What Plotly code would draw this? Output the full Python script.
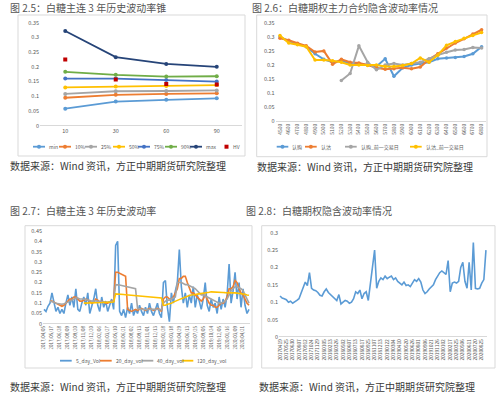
import plotly.graph_objects as go

W, H = 500, 394
FONT = "Noto Sans CJK SC"


def fx(x):
    return x / W


def fy(y):
    return 1 - y / H


# ---------------- Panel 1 : volatility cone ----------------
cone_windows = ["10", "30", "60", "90"]
cone_min = [0.058, 0.082, 0.088, 0.093]
cone_p10 = [0.095, 0.105, 0.108, 0.110]
cone_p25 = [0.108, 0.117, 0.118, 0.120]
cone_p50 = [0.130, 0.133, 0.135, 0.138]
cone_p75 = [0.160, 0.160, 0.155, 0.150]
cone_p90 = [0.183, 0.173, 0.167, 0.168]
cone_max = [0.322, 0.233, 0.210, 0.200]
cone_hv = [0.225, 0.157, 0.142, 0.140]

# y-axis tick labels (as printed on the charts)
yt_035 = ["0", "0.05", "0.1", "0.15", "0.2", "0.25", "0.3", "0.35"]
yt_045 = ["0", "0.05", "0.1", "0.15", "0.2", "0.25", "0.3", "0.35", "0.4", "0.45"]
yt_030 = ["0", "0.05", "0.1", "0.15", "0.2", "0.25", "0.3"]

# ---------------- Panel 2 : implied vol by strike ----------------
strikes = [str(s) for s in range(4500, 6900, 100)]
iv_call = [0.300, 0.285, 0.275, 0.265, 0.240, 0.220, 0.210, 0.215, 0.205, 0.205, 0.200, 0.195,
           0.222, 0.160, 0.190, 0.200, 0.205, 0.210, 0.222, 0.225, 0.227, 0.230, 0.240, 0.265]
iv_put = [0.295, 0.288, 0.277, 0.268, 0.246, 0.250, 0.203, 0.220, 0.210, 0.207, 0.200, 0.190,
          0.185, 0.187, 0.190, 0.187, 0.193, 0.220, 0.240, 0.260, 0.278, 0.293, 0.310, 0.325]
iv_call_prev = [None, None, None, None, None, None, None, 0.145, 0.170, 0.268, 0.210, 0.183,
                0.200, 0.205, 0.200, 0.205, 0.210, 0.222, 0.235, 0.245, 0.253, 0.255, 0.262, 0.260]
iv_put_prev = [0.305, 0.278, 0.272, 0.265, 0.218, 0.218, 0.215, 0.210, 0.200, 0.200, 0.198, 0.200,
               0.195, 0.195, 0.198, 0.205, 0.225, 0.210, 0.235, 0.270, 0.283, 0.295, 0.305, 0.315]

# ---------------- Panel 3 : 3-year historical vol ----------------
hv_dates = ["2017/04/05", "2017/05/17", "2017/06/28", "2017/08/09", "2017/09/20", "2017/11/08",
            "2017/12/20", "2018/02/06", "2018/03/27", "2018/05/10", "2018/06/21", "2018/08/02",
            "2018/09/13", "2018/11/01", "2018/12/13", "2019/01/28", "2019/03/18", "2019/04/29",
            "2019/06/13", "2019/07/25", "2019/09/05", "2019/10/24", "2019/12/05", "2020/01/16",
            "2020/03/09", "2020/04/21"]
vol5 = [0.07, 0.06, 0.085, 0.10, 0.15, 0.11, 0.06, 0.08, 0.05, 0.07,
        0.05, 0.10, 0.14, 0.09, 0.13, 0.08, 0.17, 0.07, 0.06, 0.10,
        0.13, 0.09, 0.15, 0.05, 0.08, 0.12, 0.17, 0.09, 0.06, 0.13,
        0.08, 0.11, 0.06, 0.09, 0.12, 0.07, 0.38, 0.40, 0.06, 0.04,
        0.07, 0.03, 0.08, 0.05, 0.10, 0.04, 0.07, 0.05, 0.09, 0.06,
        0.04, 0.08, 0.05, 0.10, 0.06, 0.04, 0.07, 0.10, 0.05, 0.03,
        0.20, 0.21, 0.08, 0.01, 0.15, 0.10, 0.16, 0.20, 0.36, 0.18,
        0.10, 0.15, 0.08, 0.14, 0.10, 0.18, 0.08, 0.14, 0.11, 0.07,
        0.12, 0.20, 0.09, 0.06, 0.12, 0.08, 0.10, 0.05, 0.13, 0.07,
        0.12, 0.08, 0.14, 0.29, 0.10, 0.16, 0.25, 0.12, 0.20, 0.08,
        0.17, 0.09, 0.05, 0.07]
vol20 = [None, None, None, 0.11, 0.11, 0.105, 0.10, 0.095, 0.09, 0.085,
         0.09, 0.10, 0.11, 0.12, 0.12, 0.13, 0.13, 0.12, 0.11, 0.11,
         0.115, 0.12, 0.115, 0.11, 0.10, 0.105, 0.12, 0.115, 0.105, 0.11,
         0.105, 0.10, 0.10, 0.105, 0.11, 0.11, 0.25, 0.25, 0.245, 0.24,
         0.235, 0.23, 0.07, 0.065, 0.06, 0.065, 0.07, 0.065, 0.07, 0.075,
         0.07, 0.065, 0.07, 0.075, 0.07, 0.065, 0.07, 0.075, 0.07, 0.06,
         0.12, 0.13, 0.13, 0.12, 0.12, 0.13, 0.15, 0.17, 0.22, 0.22,
         0.23, 0.23, 0.20, 0.17, 0.15, 0.15, 0.14, 0.13, 0.12, 0.11,
         0.12, 0.14, 0.12, 0.10, 0.09, 0.09, 0.08, 0.08, 0.09, 0.10,
         0.10, 0.11, 0.13, 0.17, 0.17, 0.18, 0.21, 0.20, 0.17, 0.15,
         0.14, 0.12, 0.10, 0.09]
vol40 = [None, None, None, 0.11, 0.108, 0.105, 0.10, 0.098, 0.095, 0.095,
         0.097, 0.10, 0.105, 0.11, 0.115, 0.12, 0.125, 0.125, 0.12, 0.12,
         0.12, 0.118, 0.115, 0.112, 0.11, 0.11, 0.112, 0.11, 0.108, 0.106,
         0.105, 0.104, 0.105, 0.107, 0.11, 0.11, 0.19, 0.19, 0.188, 0.186,
         0.184, 0.182, 0.18, 0.178, 0.176, 0.173, 0.17, 0.075, 0.072, 0.07,
         0.07, 0.068, 0.068, 0.07, 0.072, 0.07, 0.07, 0.072, 0.07, 0.068,
         0.10, 0.11, 0.115, 0.115, 0.12, 0.125, 0.13, 0.20, 0.20, 0.20,
         0.195, 0.19, 0.19, 0.185, 0.18, 0.175, 0.17, 0.16, 0.15, 0.14,
         0.14, 0.135, 0.13, 0.125, 0.12, 0.115, 0.11, 0.105, 0.10, 0.10,
         0.105, 0.11, 0.12, 0.14, 0.16, 0.17, 0.18, 0.18, 0.175, 0.17,
         0.16, 0.14, 0.12, 0.10]
vol120 = [None] * 20 + [
    0.10, 0.10, 0.10, 0.10, 0.10, 0.101, 0.102, 0.102, 0.103, 0.103,
    0.104, 0.104, 0.105, 0.105, 0.106, 0.106, 0.145, 0.145, 0.144, 0.143,
    0.142, 0.141, 0.14, 0.14, 0.139, 0.138, 0.137, 0.136, 0.135, 0.134,
    0.133, 0.132, 0.131, 0.13, 0.13, 0.129, 0.128, 0.127, 0.126, 0.125,
    0.09, 0.09, 0.095, 0.097, 0.10, 0.105, 0.11, 0.115, 0.12, 0.122,
    0.125, 0.13, 0.135, 0.137, 0.14, 0.14, 0.142, 0.144, 0.145, 0.147,
    0.148, 0.15, 0.152, 0.153, 0.155, 0.155, 0.155, 0.155, 0.154, 0.153,
    0.152, 0.151, 0.15, 0.15, 0.15, 0.15, 0.15, 0.149, 0.148, 0.147,
    0.145, 0.143, 0.14, 0.138]

# ---------------- Panel 4 : implied vol history ----------------
iv_dates = ["20170419", "20170525", "20170630", "20170807", "20170912", "20171024", "20171129",
            "20180105", "20180213", "20180326", "20180502", "20180607", "20180713", "20180817",
            "20180925", "20181107", "20181213", "20190122", "20190304", "20190410", "20190520",
            "20190626", "20190801", "20190906", "20191021", "20191126", "20200102", "20200217",
            "20200325", "20200506", "20200611", "20200720", "20200825"]
iv_hist = [0.118, 0.112, 0.11, 0.107, 0.10, 0.103, 0.097, 0.10, 0.105, 0.11,
           0.125, 0.145, 0.158, 0.148, 0.185, 0.14, 0.135, 0.133, 0.128, 0.12,
           0.118, 0.13, 0.138, 0.128, 0.122, 0.115, 0.11, 0.105, 0.122, 0.095,
           0.10, 0.105, 0.103, 0.097, 0.10, 0.11, 0.13, 0.125, 0.135, 0.11,
           0.125, 0.13, 0.105, 0.15, 0.20, 0.25, 0.14, 0.16, 0.17, 0.165,
           0.175, 0.168, 0.172, 0.175, 0.165, 0.17, 0.16, 0.155, 0.15, 0.158,
           0.148, 0.15, 0.145, 0.155, 0.165, 0.16, 0.168, 0.158, 0.135, 0.125,
           0.13, 0.138, 0.145, 0.15, 0.165, 0.175, 0.185, 0.19, 0.185, 0.18,
           0.22, 0.13, 0.155, 0.158, 0.155, 0.16, 0.20, 0.215, 0.16, 0.14,
           0.215, 0.135, 0.272, 0.14, 0.138, 0.14, 0.155, 0.165, 0.25]

BLUE, ORANGE, GRAY, YELLOW = "#5B9BD5", "#ED7D31", "#A5A5A5", "#FFC000"
C75, GREEN, DARK, RED = "#4472C4", "#70AD47", "#264478", "#C00000"

fig = go.Figure()

# Panel 1 traces
cone_series = [("min", cone_min, BLUE), ("10%", cone_p10, ORANGE), ("25%", cone_p25, GRAY),
               ("50%", cone_p50, YELLOW), ("75%", cone_p75, C75), ("90%", cone_p90, GREEN),
               ("max", cone_max, DARK)]
for name, vals, col in cone_series:
    fig.add_trace(go.Scatter(x=cone_windows, y=vals, name=name, mode="lines+markers",
                             line=dict(color=col, width=1.8), marker=dict(size=4, color=col),
                             xaxis="x", yaxis="y"))
fig.add_trace(go.Scatter(x=cone_windows, y=cone_hv, name="HV", mode="markers",
                         marker=dict(size=4, color=RED, symbol="square"), xaxis="x", yaxis="y"))

# Panel 2 traces
for name, vals, col in [("认购", iv_call, BLUE), ("认沽", iv_put, ORANGE),
                        ("认购_前一交易日", iv_call_prev, GRAY), ("认沽_前一交易日", iv_put_prev, YELLOW)]:
    fig.add_trace(go.Scatter(x=strikes, y=vals, name=name, mode="lines+markers",
                             line=dict(color=col, width=2), marker=dict(size=3.5, color=col),
                             xaxis="x2", yaxis="y2"))

# Panel 3 traces
idx3 = list(range(len(vol5)))
for name, vals, col in [("5_day_Vol", vol5, BLUE), ("20_day_vol", vol20, ORANGE),
                        ("40_day_vol", vol40, GRAY), ("120_day_vol", vol120, YELLOW)]:
    fig.add_trace(go.Scatter(x=idx3, y=vals, name=name, mode="lines",
                             line=dict(color=col, width=1.6), xaxis="x3", yaxis="y3"))

# Panel 4 trace
idx4 = list(range(len(iv_hist)))
fig.add_trace(go.Scatter(x=idx4, y=iv_hist, name="隐含波动率", mode="lines",
                         line=dict(color=BLUE, width=1.6), xaxis="x4", yaxis="y4"))

tick_col = "#595959"


def yax(labels, top, dom):
    vals = [round(i * 0.05, 2) for i in range(len(labels))]
    return dict(showgrid=False, ticks="", automargin=False, zeroline=True, zerolinecolor="#D9D9D9",
                zerolinewidth=1, tickfont=dict(size=5.5, color=tick_col, family=FONT),
                tickmode="array", tickvals=vals, ticktext=labels, range=[-0.001, top], domain=dom)


common_x = dict(showgrid=False, zeroline=False, ticks="", automargin=False, showline=False)

fig.update_layout(
    width=W, height=H, margin=dict(l=0, r=0, t=0, b=0, autoexpand=False),
    paper_bgcolor="white", plot_bgcolor="white", showlegend=False,
    font=dict(family=FONT),
    xaxis=dict(common_x, domain=[fx(40), fx(242)], type="category", range=[-0.5, 3.5],
               tickfont=dict(size=5.5, color=tick_col), anchor="y"),
    yaxis=dict(yax(yt_035, 0.35, [fy(126), fy(22.7)]), anchor="x"),
    xaxis2=dict(common_x, domain=[fx(275.6), fx(486)], type="category", range=[-0.5, 23.5],
                tickmode="array", tickvals=strikes, ticktext=strikes, tickangle=-90,
                tickfont=dict(size=5, color=tick_col), anchor="y2"),
    yaxis2=dict(yax(yt_035, 0.35, [fy(121.7), fy(22.7)]), anchor="x2"),
    xaxis3=dict(common_x, domain=[fx(43), fx(250)], range=[-0.5, 103.5],
                tickmode="array", tickvals=list(range(0, 104, 4)), ticktext=hv_dates, tickangle=-90,
                tickfont=dict(size=4.5, color=tick_col), anchor="y3"),
    yaxis3=dict(yax(yt_045, 0.45, [fy(324), fy(231)]), anchor="x3"),
    xaxis4=dict(common_x, domain=[fx(279), fx(487)], range=[-0.5, 98.5],
                tickmode="array", tickvals=list(range(0, 99, 3)), ticktext=iv_dates, tickangle=-90,
                tickfont=dict(size=4.8, color=tick_col), anchor="y4"),
    yaxis4=dict(yax(yt_030, 0.3, [fy(337.3), fy(232.7)]), anchor="x4"),
)

shapes = []
annos = []

# chart boxes
for (x0, y0, x1, y1) in [(18, 15, 245, 156), (256.7, 15, 487, 156.7), (25, 225.7, 252, 368), (261.7, 225.7, 495, 368)]:
    shapes.append(dict(type="rect", xref="paper", yref="paper", x0=fx(x0), x1=fx(x1), y0=fy(y1), y1=fy(y0),
                       line=dict(color="#D9D9D9", width=1), fillcolor="rgba(0,0,0,0)", layer="below"))

# titles and sources
title_font = dict(family=FONT, size=10, color="#555555")
src_font = dict(family=FONT, size=10, color="#3a3a3a")
for x, y, t in [(8, 8, "图 2.5：白糖主连 3 年历史波动率锥"), (250, 8, "图 2.6：白糖期权主力合约隐含波动率情况"),
                (8, 210, "图 2.7：白糖主连 3 年历史波动率"), (244, 210, "图 2.8：白糖期权隐含波动率情况")]:
    annos.append(dict(x=fx(x), y=fy(y), xref="paper", yref="paper", text=t, showarrow=False,
                      xanchor="left", yanchor="middle", font=title_font))
for x, y in [(8, 165.7), (255, 166.7), (8, 386.7), (256.7, 386.7)]:
    annos.append(dict(x=fx(x), y=fy(y), xref="paper", yref="paper", text="数据来源：Wind 资讯，方正中期期货研究院整理",
                      showarrow=False, xanchor="left", yanchor="middle", font=src_font))


def legend_item(x0, x1, y, color, label, marker=True, line=True, msym="circle"):
    if line:
        shapes.append(dict(type="line", xref="paper", yref="paper", x0=fx(x0), x1=fx(x1), y0=fy(y), y1=fy(y),
                           line=dict(color=color, width=1.8)))
    if marker:
        cx = (x0 + x1) / 2
        shapes.append(dict(type=msym, xref="paper", yref="paper", xsizemode="pixel", ysizemode="pixel",
                           xanchor=fx(cx), yanchor=fy(y), x0=-2, x1=2, y0=-2, y1=2,
                           fillcolor=color, line=dict(color=color, width=0)))
    annos.append(dict(x=fx(x1 + 2), y=fy(y), xref="paper", yref="paper", text=label, showarrow=False,
                      xanchor="left", yanchor="middle", font=dict(family=FONT, size=5, color=tick_col)))


# Panel 1 legend
leg1 = [(33, 45, "min", BLUE), (59, 71, "10%", ORANGE), (85, 97, "25%", GRAY), (113, 125, "50%", YELLOW),
        (138, 150, "75%", C75), (165, 177, "90%", GREEN), (190, 202, "max", DARK)]
for a, b, lab, c in leg1:
    legend_item(a, b, 146.7, c, lab)
legend_item(224.5, 228.5, 146.7, RED, "HV", marker=True, line=False, msym="rect")

# Panel 2 legend
for a, b, lab, c in [(276.7, 288.3, "认购", BLUE), (305, 316.7, "认沽", ORANGE),
                     (345, 356.7, "认购_前一交易日", GRAY), (410, 421.7, "认沽_前一交易日", YELLOW)]:
    legend_item(a, b, 146.7, c, lab)

# Panel 3 legend
for a, b, lab, c in [(60, 71.7, "5_day_Vol", BLUE), (100, 111.7, "20_day_vol", ORANGE),
                     (141.7, 153.3, "40_day_vol", GRAY), (181.7, 193.3, "120_day_vol", YELLOW)]:
    legend_item(a, b, 360.7, c, lab, marker=False)

fig.update_layout(shapes=shapes, annotations=annos)
fig.write_html("out.html", config={"displayModeBar": False},
               post_script="document.body.style.margin='0';document.body.style.overflow='hidden';")
